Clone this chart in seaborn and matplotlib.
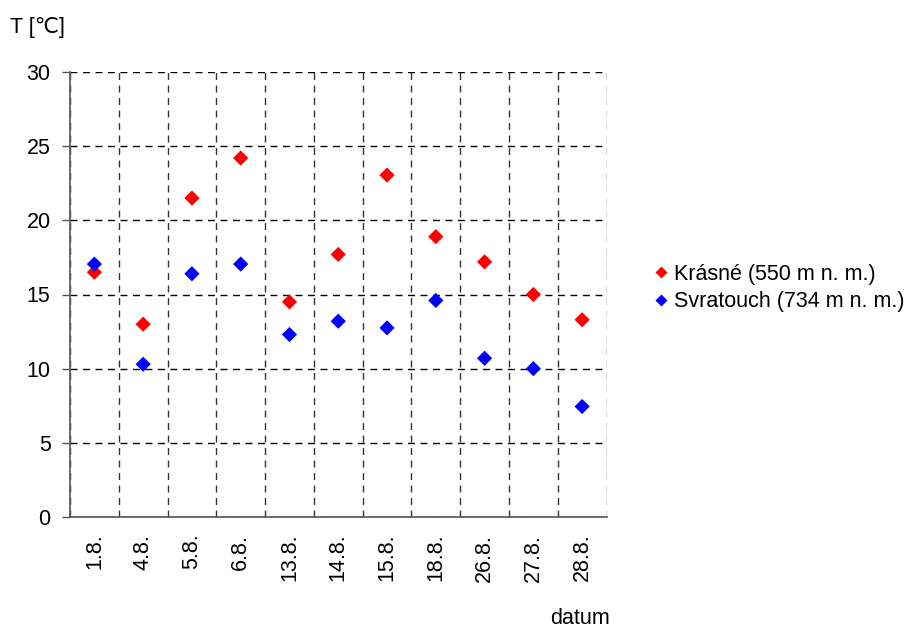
import pandas as pd
import numpy as np
import matplotlib
matplotlib.use("Agg")
import matplotlib.pyplot as plt
import seaborn as sns

dates = ["1.8.", "4.8.", "5.8.", "6.8.", "13.8.", "14.8.", "15.8.", "18.8.", "26.8.", "27.8.", "28.8."]
krasne = [16.5, 13.0, 21.5, 24.2, 14.5, 17.7, 23.05, 18.9, 17.2, 15.0, 13.3]
svratouch = [17.05, 10.3, 16.4, 17.05, 12.3, 13.2, 12.75, 14.6, 10.7, 10.0, 7.45]
series = ["Krásné (550 m n. m.)", "Svratouch (734 m n. m.)"]

sns.set_style("white")
plt.rcParams['font.family'] = ['Liberation Sans', 'DejaVu Sans']
plt.rcParams['text.color'] = 'black'
plt.rcParams['xtick.color'] = 'black'
plt.rcParams['ytick.color'] = 'black'
fs = 15.5

df = pd.DataFrame({
    "datum": dates * 2,
    "T": krasne + svratouch,
    "stanice": [series[0]] * len(dates) + [series[1]] * len(dates),
})

fig = plt.figure(figsize=(9.16, 6.3), dpi=100)
ax = fig.add_axes([70 / 916, 1 - 517 / 630, 537 / 916, 445 / 630])

sns.scatterplot(data=df, x="datum", y="T", hue="stanice",
                palette=["#ff0000", "#0000ff"], marker="D", s=60,
                edgecolor="none", ax=ax, zorder=3)

n = len(dates)
ax.set_xlim(-0.5, n - 0.49)
ax.set_ylim(0, 30)
ax.set_yticks(range(0, 31, 5))
ax.set_xticks(range(n))
ax.set_xticklabels(dates, rotation=90)
ax.set_xticks(np.arange(-0.5, n, 1.0), minor=True)
ax.tick_params(axis="x", which="major", length=0, labelsize=fs, pad=12, labelcolor="black")
ax.tick_params(axis="x", which="minor", length=8, direction="inout", width=1, color="#555555")
ax.tick_params(axis="y", length=6, direction="out", width=1, color="#555555", labelsize=fs, pad=8,
               labelcolor="black")
ax.tick_params(left=True, bottom=False)

ax.grid(False)
ax.grid(True, axis="y", which="major", linestyle=(0, (5, 4)), color="black", linewidth=1)
ax.grid(True, axis="x", which="minor", linestyle=(0, (5, 4)), color="#333333", linewidth=1)
ax.set_axisbelow(True)

for s in ["top", "right"]:
    ax.spines[s].set_visible(False)
for s in ["left", "bottom"]:
    ax.spines[s].set_color("#555555")
    ax.spines[s].set_linewidth(1.2)
    ax.spines[s].set_zorder(4)

ax.set_xlabel("")
ax.set_ylabel("")
fig.text(10 / 916, 1 - 28 / 630, "T [℃]", fontsize=fs, va="center", ha="left")
fig.text(610 / 916, 1 - 619 / 630, "datum", fontsize=fs, va="center", ha="right")

h, l = ax.get_legend_handles_labels()
ax.get_legend().remove()
fig.legend(h, l, loc="center left", bbox_to_anchor=(650 / 916, 1 - 288 / 630),
           frameon=False, fontsize=fs, handlelength=1.0, handletextpad=0.1,
           markerscale=0.75, labelspacing=0.3, borderaxespad=0, borderpad=0,
           labelcolor="black")

fig.savefig("out.png", dpi=100)
